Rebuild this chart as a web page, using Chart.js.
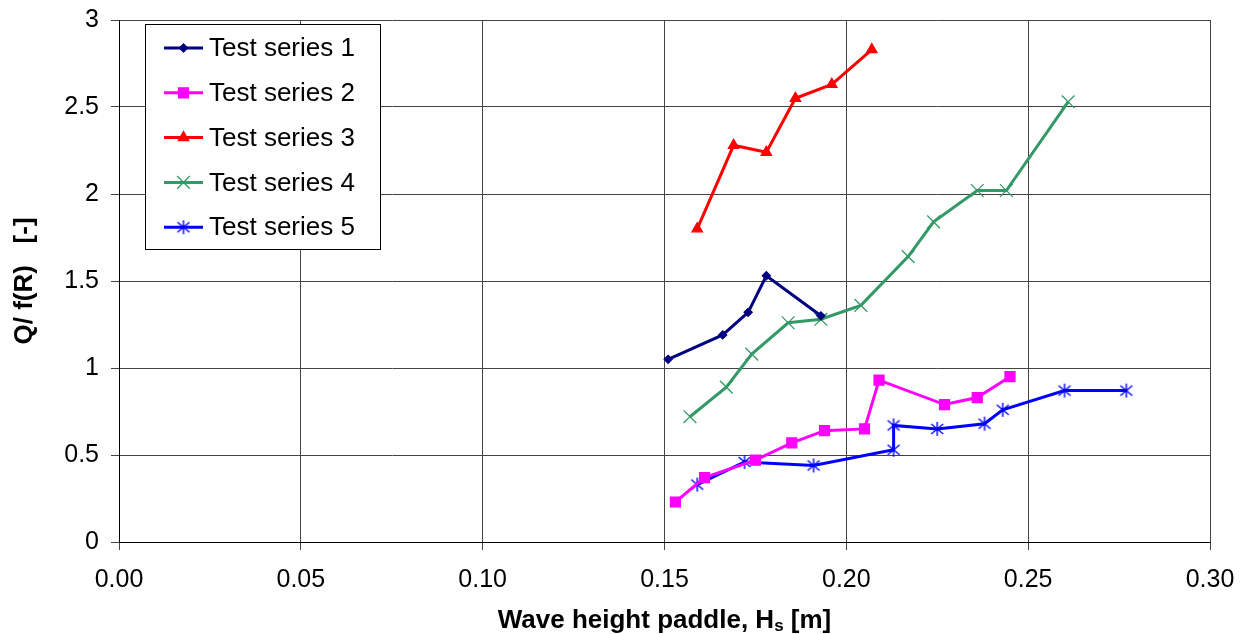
<!DOCTYPE html>
<html>
<head>
<meta charset="utf-8">
<script src="https://cdn.jsdelivr.net/npm/chart.js@4/dist/chart.umd.min.js"></script>
<style>
  html, body { margin: 0; padding: 0; background: #fff; }
  #wrap { position: relative; width: 1250px; height: 634px; }
</style>
</head>
<body>
<div id="wrap"><canvas id="chart"></canvas></div>
<script>
// values (x = wave height paddle Hs [m], y = Q/f(R))
const seriesNames = ['Test series 1', 'Test series 2', 'Test series 3', 'Test series 4', 'Test series 5'];

const series1X = [0.151, 0.166, 0.173, 0.178, 0.193];
const series1Y = [1.05, 1.19, 1.32, 1.53, 1.30];

const series2X = [0.153, 0.161, 0.175, 0.185, 0.194, 0.205, 0.209, 0.227, 0.236, 0.245];
const series2Y = [0.23, 0.37, 0.47, 0.57, 0.64, 0.65, 0.93, 0.79, 0.83, 0.95];

const series3X = [0.159, 0.169, 0.178, 0.186, 0.196, 0.207];
const series3Y = [1.80, 2.28, 2.24, 2.55, 2.63, 2.83];

const series4X = [0.157, 0.167, 0.174, 0.184, 0.193, 0.204, 0.217, 0.224, 0.236, 0.244, 0.261];
const series4Y = [0.72, 0.89, 1.08, 1.26, 1.28, 1.36, 1.64, 1.84, 2.02, 2.02, 2.53];

const series5X = [0.159, 0.172, 0.191, 0.213, 0.213, 0.225, 0.238, 0.243, 0.260, 0.277];
const series5Y = [0.33, 0.46, 0.44, 0.53, 0.67, 0.65, 0.68, 0.76, 0.87, 0.87];

const xTicks = [0, 0.05, 0.10, 0.15, 0.20, 0.25, 0.30];
const yTicks = [0, 0.5, 1, 1.5, 2, 2.5, 3];

const colors = ['#000080', '#ff00ff', '#ff0000', '#339966', '#0000ff'];

// asterisk marker (vertical stroke + an X), like the spreadsheet one
function asterisk(color) {
  const c = document.createElement('canvas');
  c.width = 18; c.height = 18;
  const g = c.getContext('2d');
  g.strokeStyle = color;
  g.lineWidth = 1.4;
  g.beginPath();
  g.moveTo(9, 2); g.lineTo(9, 16);
  g.moveTo(3, 4); g.lineTo(15, 14);
  g.moveTo(15, 4); g.lineTo(3, 14);
  g.stroke();
  return c;
}

const toPoints = (xs, ys) => xs.map((x, i) => ({ x: x, y: ys[i] }));

const markers = [
  { pointStyle: 'rectRot', pointRadius: 4 },
  { pointStyle: 'rect', pointRadius: 7 },
  { pointStyle: 'triangle', pointRadius: 6 },
  { pointStyle: 'crossRot', pointRadius: 9 },
  { pointStyle: asterisk('#0000ff'), pointRadius: 9 }
];

const allX = [series1X, series2X, series3X, series4X, series5X];
const allY = [series1Y, series2Y, series3Y, series4Y, series5Y];

const datasets = seriesNames.map((name, i) => ({
  label: name,
  data: toPoints(allX[i], allY[i]),
  borderColor: colors[i],
  backgroundColor: colors[i],
  borderWidth: 3,
  pointBorderWidth: 1.3,
  pointStyle: markers[i].pointStyle,
  pointRadius: markers[i].pointRadius,
  showLine: true,
  tension: 0
}));

// boxed legend inside the plot, line + marker samples
const boxLegend = {
  id: 'boxLegend',
  afterDatasetsDraw(chart) {
    const ctx = chart.ctx;
    ctx.save();
    ctx.fillStyle = '#fff';
    ctx.fillRect(145, 24.5, 236, 225);
    ctx.strokeStyle = '#000';
    ctx.lineWidth = 1;
    ctx.strokeRect(145.5, 24.5, 235, 225);
    ctx.font = '26px "Liberation Sans", Arial, sans-serif';
    ctx.textBaseline = 'middle';
    chart.data.datasets.forEach((ds, i) => {
      const y = 48 + i * 44.8;
      ctx.strokeStyle = ds.borderColor;
      ctx.lineWidth = 3;
      ctx.beginPath();
      ctx.moveTo(164, y);
      ctx.lineTo(203, y);
      ctx.stroke();
      ctx.fillStyle = ds.backgroundColor;
      ctx.lineWidth = ds.pointBorderWidth;
      Chart.helpers.drawPoint(ctx, { pointStyle: ds.pointStyle, radius: ds.pointRadius, rotation: 0, borderWidth: ds.pointBorderWidth }, 183.5, y);
      ctx.fillStyle = '#000';
      ctx.fillText(ds.label, 209, y + 1);
    });
    ctx.restore();
  }
};

// x axis title with subscript s
const xTitle = {
  id: 'xTitle',
  afterDraw(chart) {
    const ctx = chart.ctx;
    const a = chart.chartArea;
    const big = 'bold 26px "Liberation Sans", Arial, sans-serif';
    const small = 'bold 17px "Liberation Sans", Arial, sans-serif';
    const p1 = 'Wave height paddle, H', p2 = 's', p3 = ' [m]';
    ctx.save();
    ctx.fillStyle = '#000';
    ctx.textBaseline = 'alphabetic';
    ctx.font = big;
    const w1 = ctx.measureText(p1).width, w3 = ctx.measureText(p3).width;
    ctx.font = small;
    const w2 = ctx.measureText(p2).width;
    let x = (a.left + a.right) / 2 - (w1 + w2 + w3) / 2;
    const base = 628;
    ctx.textAlign = 'left';
    ctx.font = big;
    ctx.fillText(p1, x, base);
    x += w1;
    ctx.font = small;
    ctx.fillText(p2, x, base + 3);
    x += w2;
    ctx.font = big;
    ctx.fillText(p3, x, base);
    ctx.restore();
  }
};

new Chart(document.getElementById('chart'), {
  type: 'scatter',
  data: { datasets: datasets },
  plugins: [boxLegend, xTitle],
  options: {
    responsive: true,
    maintainAspectRatio: false,
    animation: false,
    layout: { padding: { top: 20, right: 40, left: 0, bottom: 0 } },
    plugins: {
      legend: { display: false },
      tooltip: { enabled: false }
    },
    scales: {
      x: {
        type: 'linear',
        min: 0,
        max: 0.30,
        afterBuildTicks: (scale) => { scale.ticks = xTicks.map(v => ({ value: v })); },
        afterFit: (scale) => { scale.height = 92; scale.paddingLeft = 0; scale.paddingRight = 0; },
        grid: { color: '#444', lineWidth: 1, tickLength: 8, drawTicks: true },
        border: { color: '#000', width: 1 },
        ticks: {
          color: '#000',
          padding: 15,
          maxRotation: 0,
          font: { family: '"Liberation Sans", Arial, sans-serif', size: 25 },
          callback: (v) => Number(v).toFixed(2)
        }
      },
      y: {
        min: 0,
        max: 3,
        afterBuildTicks: (scale) => { scale.ticks = yTicks.map(v => ({ value: v })); },
        afterFit: (scale) => { scale.width = 119; scale.paddingTop = 0; scale.paddingBottom = 0; },
        grid: { color: '#444', lineWidth: 1, tickLength: 8, drawTicks: true },
        border: { color: '#000', width: 1 },
        title: {
          display: true,
          text: 'Q/ f(R)   [-]',
          color: '#000',
          padding: { top: 9, bottom: 0 },
          font: { family: '"Liberation Sans", Arial, sans-serif', size: 26, weight: 'bold' }
        },
        ticks: {
          color: '#000',
          padding: 12,
          font: { family: '"Liberation Sans", Arial, sans-serif', size: 25 },
          callback: (v) => String(v)
        }
      }
    }
  }
});
</script>
</body>
</html>
